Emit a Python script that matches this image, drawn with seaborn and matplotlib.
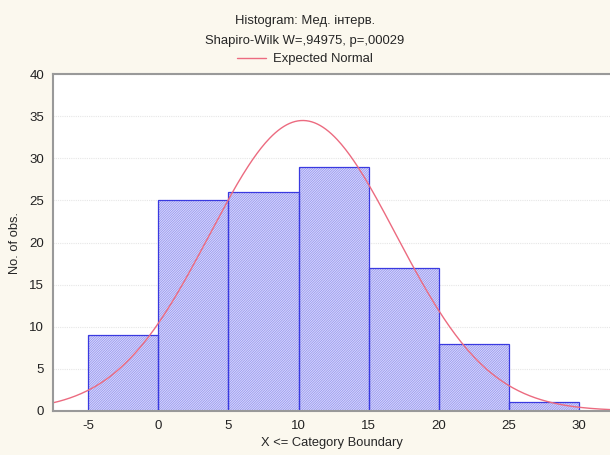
import numpy as np
import pandas as pd
import matplotlib
matplotlib.use("Agg")
import matplotlib.pyplot as plt
import seaborn as sns
from matplotlib.lines import Line2D

# Histogram data: category upper boundaries and counts per bin
bin_edges = [-5, 0, 5, 10, 15, 20, 25, 30]
counts = [9, 25, 26, 29, 17, 8, 1]
x_ticks = [-5, 0, 5, 10, 15, 20, 25, 30]
y_ticks = [0, 5, 10, 15, 20, 25, 30, 35, 40]

# Fitted normal parameters
mean_val = 10.3
sd_val = 6.65

title_line1 = "Histogram: Мед. інтерв."
title_line2 = "Shapiro-Wilk W=,94975, p=,00029"
legend_label = "Expected Normal"

sns.set_style("white")
plt.rcParams["font.family"] = ["Liberation Sans", "DejaVu Sans"]
plt.rcParams["hatch.linewidth"] = 0.45
plt.rcParams["hatch.color"] = "#8A8AEE"
plt.rcParams["axes.unicode_minus"] = False

bg = "#FBF8EE"
curve_color = "#EC6B80"
outline_color = "#3A3AE0"
face_color = "#D8D8FB"
hatch_color = "#8A8AEE"
fig = plt.figure(figsize=(6.1, 4.55), dpi=100, facecolor=bg)
ax = fig.add_axes([0.087, 0.097, 0.913, 0.740])
ax.set_facecolor("white")

centers = [(a + b) / 2 for a, b in zip(bin_edges[:-1], bin_edges[1:])]
df = pd.DataFrame({"x": centers, "n": counts})

# Filled, finely hatched bars
sns.histplot(data=df, x="x", weights="n", bins=bin_edges, ax=ax,
             color=face_color, alpha=1.0, linewidth=0, hatch="/" * 14)
for p in ax.patches:
    p.set_facecolor(face_color)
    p.set_linewidth(0)
    p.set_edgecolor(hatch_color)
    if hasattr(p, "set_hatchcolor"):
        p.set_hatchcolor(hatch_color)

# Blue outlines on top
sns.histplot(data=df, x="x", weights="n", bins=bin_edges, ax=ax,
             fill=False, color=outline_color, linewidth=0.9)

# Expected normal curve scaled to counts
n_total = sum(counts)
width = bin_edges[1] - bin_edges[0]
xs = np.linspace(-7.5, 32.5, 400)
ys = n_total * width / (sd_val * np.sqrt(2 * np.pi)) * np.exp(-0.5 * ((xs - mean_val) / sd_val) ** 2)
sns.lineplot(x=xs, y=ys, ax=ax, color=curve_color, linewidth=1.0)

ax.set_xlim(-7.5, 32.2)
ax.set_ylim(0, 40)
ax.set_xticks(x_ticks)
ax.set_yticks(y_ticks)
ax.tick_params(axis="both", labelsize=9.5, colors="#222222", length=3)
for lab in ax.get_xticklabels() + ax.get_yticklabels():
    lab.set_color("#222222")
ax.yaxis.grid(True, color="#E6E6E6", linestyle=(0, (1, 1)), linewidth=0.8)
ax.set_axisbelow(True)

for side in ["left", "top", "bottom"]:
    ax.spines[side].set_color("#999999")
    ax.spines[side].set_linewidth(1.5)
ax.spines["right"].set_visible(False)

ax.set_xlabel("X <= Category Boundary", fontsize=9.3, labelpad=4)
ax.set_ylabel("No. of obs.", fontsize=9.3, labelpad=6)

fig.text(0.5, 0.953, title_line1, ha="center", va="center", fontsize=9.4)
fig.text(0.5, 0.909, title_line2, ha="center", va="center", fontsize=9.4)
handle = Line2D([], [], color=curve_color, linewidth=1.0)
fig.legend([handle], [legend_label], loc="center", bbox_to_anchor=(0.5, 0.870),
           frameon=False, fontsize=9.4, handlelength=2.2, handletextpad=0.6)

fig.savefig("out.png", dpi=100, facecolor=bg)
